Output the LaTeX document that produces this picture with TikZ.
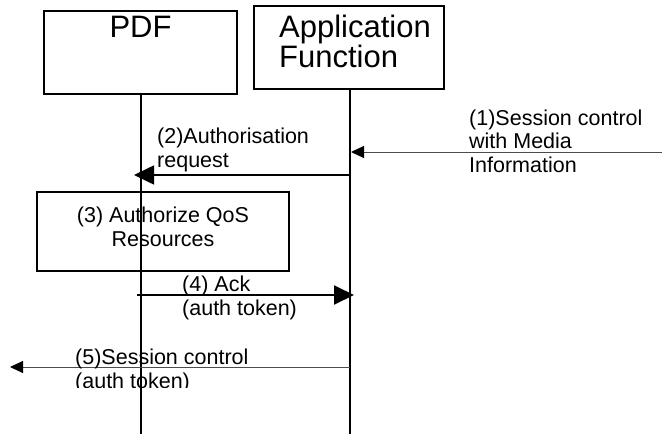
\documentclass[tikz,border=0pt]{standalone}
\usepackage{fontspec}
\setmainfont{Liberation Sans}
\usetikzlibrary{arrows.meta}
\tikzset{
  ent/.style={draw=black, line width=1.2pt, inner sep=0pt},
  life/.style={draw=black, line width=1.4pt},
  title/.style={inner sep=0pt, font=\fontsize{31}{31}\selectfont},
  lbl/.style={inner sep=0pt, anchor=base west, font=\fontsize{21.5}{24}\selectfont},
  lblc/.style={inner sep=0pt, anchor=base, font=\fontsize{21.5}{24}\selectfont},
  thinmsg/.style={draw=black!70, line width=1pt, -{Triangle[length=13pt,width=12pt,color=black]}},
  boldmsg/.style={draw=black, line width=1.6pt, -{Triangle[length=20pt,width=19pt]}}
}
\begin{document}
\begin{tikzpicture}[x=1pt,y=-1pt]
\useasboundingbox (0,0) rectangle (662,434);
% entity boxes
\node[ent, minimum width=193pt, minimum height=83pt] (pdf) at (140.5,52.5) {};
\node[ent, minimum width=190pt, minimum height=83pt] (af) at (349,47.5) {};
\node[title, anchor=base] (pdft) at (140.5,37) {PDF};
\node[title, anchor=base west] (aft1) at (279,37) {Application};
\node[title, anchor=base west] (aft2) at (279,67) {Function};
% lifelines
\coordinate (pdfb) at (141,434);
\coordinate (afb) at (350,434);
\draw[life] (pdf.south -| pdfb) -- (pdfb);
\draw[life] (af.south -| afb) -- (afb);
% (1)
\coordinate (m1s) at (662,152);
\coordinate (m1e) at (351,152);
\draw[thinmsg] (m1s) -- (m1e);
\node[lbl] (l1a) at (469,125) {(1)Session control};
\node[lbl] (l1b) at (469,148) {with Media};
\node[lbl] (l1c) at (469,172) {Information};
% (2)
\coordinate (m2s) at (350,175);
\coordinate (m2e) at (134,175);
\draw[boldmsg] (m2s) -- (m2e);
\node[lbl] (l2a) at (157,143) {(2)Authorisation};
\node[lbl] (l2b) at (157,167) {request};
% (3)
\node[ent, minimum width=252pt, minimum height=79pt] (auth) at (163,231.5) {};
\node[lblc] (l3a) at (163,222) {(3) Authorize QoS};
\node[lblc] (l3b) at (163,246) {Resources};
% (4)
\coordinate (m4s) at (137,295);
\coordinate (m4e) at (354,295);
\draw[boldmsg, line width=2pt] (m4s) -- (m4e);
\node[lbl] (l4a) at (182,291) {(4) Ack};
\node[lbl] (l4b) at (182,315) {(auth token)};
% (5)
\coordinate (m5s) at (350,367);
\coordinate (m5e) at (10,367);
\draw[thinmsg] (m5s) -- (m5e);
\node[lbl] (l5a) at (75,364) {(5)Session control};
\begin{scope}
\clip (0,0) rectangle (662,387);
\node[lbl] (l5b) at (75,388) {(auth token)};
\end{scope}
\end{tikzpicture}
\end{document}
